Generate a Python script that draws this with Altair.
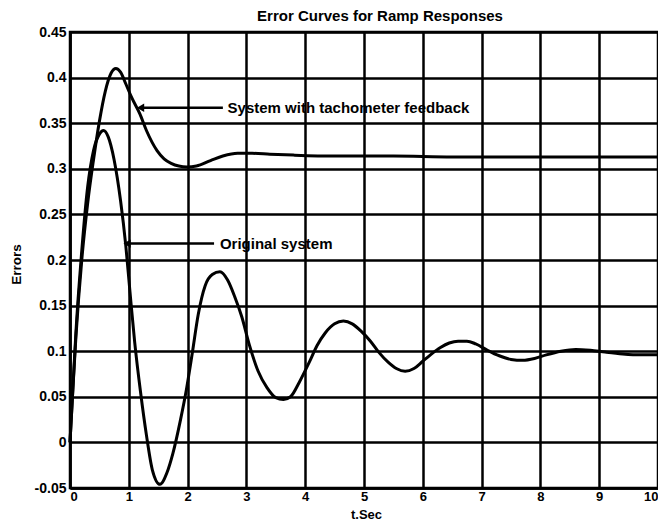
import altair as alt
import pandas as pd

# ---- data ----
t_orig = [0.0, 0.05, 0.1, 0.2, 0.3, 0.4, 0.5, 0.57, 0.65, 0.75, 0.86, 0.95, 1.02, 1.1, 1.2,
          1.3, 1.4, 1.53, 1.65, 1.75, 1.88, 1.98, 2.08, 2.18, 2.3, 2.42, 2.55, 2.68, 2.8,
          2.92, 3.05, 3.2, 3.35, 3.5, 3.63, 3.75, 3.9, 4.07, 4.2, 4.34, 4.5, 4.65, 4.8,
          4.95, 5.11, 5.25, 5.41, 5.55, 5.7, 5.85, 6.0, 6.13, 6.3, 6.45, 6.6, 6.75, 6.9,
          7.1, 7.3, 7.5, 7.7, 7.9, 8.1, 8.35, 8.6, 8.85, 9.1, 9.4, 9.7, 10.0]
e_orig = [0.0, 0.06, 0.12, 0.21, 0.28, 0.32, 0.338, 0.342, 0.335, 0.31, 0.265, 0.215, 0.165,
          0.11, 0.055, 0.008, -0.03, -0.046, -0.033, -0.012, 0.025, 0.058, 0.098, 0.14,
          0.172, 0.184, 0.187, 0.178, 0.16, 0.138, 0.107, 0.078, 0.06, 0.049, 0.047, 0.05,
          0.066, 0.088, 0.106, 0.12, 0.13, 0.133, 0.13, 0.122, 0.111, 0.099, 0.088, 0.081,
          0.078, 0.081, 0.089, 0.096, 0.104, 0.109, 0.111, 0.111, 0.108, 0.101, 0.095,
          0.091, 0.09, 0.092, 0.096, 0.1, 0.102, 0.101, 0.099, 0.097, 0.096, 0.096]

t_tach = [0.0, 0.05, 0.1, 0.2, 0.3, 0.4, 0.5, 0.6, 0.7, 0.78, 0.86, 0.95, 1.05, 1.19, 1.3,
          1.48, 1.6, 1.72, 1.85, 1.99, 2.15, 2.39, 2.6, 2.85, 3.1, 3.4, 3.8, 4.5, 5.5, 6.5,
          8.0, 10.0]
e_tach = [0.0, 0.06, 0.115, 0.2, 0.262, 0.31, 0.352, 0.385, 0.405, 0.41, 0.406, 0.393,
          0.378, 0.36, 0.342, 0.32, 0.311, 0.306, 0.303, 0.302, 0.303, 0.309, 0.314, 0.317,
          0.317, 0.316, 0.315, 0.314, 0.314, 0.313, 0.313, 0.313]

x_ticks = [0, 1, 2, 3, 4, 5, 6, 7, 8, 9, 10]
y_ticks = [-0.05, 0.0, 0.05, 0.1, 0.15, 0.2, 0.25, 0.3, 0.35, 0.4, 0.45]

chart_title = "Error Curves for Ramp Responses"
x_title = "t.Sec"
y_title = "Errors"

ann_text = ["System with tachometer feedback", "Original system"]
ann_tip_t = [1.2, 0.97]
ann_e = [0.367, 0.218]
ann_end_t = [2.6, 2.45]
ann_text_t = [2.68, 2.55]

FONT = "Liberation Sans"

df = pd.concat([
    pd.DataFrame({"t": t_orig, "e": e_orig, "series": "Original system"}),
    pd.DataFrame({"t": t_tach, "e": e_tach, "series": "System with tachometer feedback"}),
])
ann = pd.DataFrame({"text": ann_text, "tip": ann_tip_t, "e": ann_e,
                    "end": ann_end_t, "tx": ann_text_t})

xs = alt.Scale(domain=[0, 10], nice=False)
ys = alt.Scale(domain=[-0.05, 0.45], nice=False, zero=False)

lines = alt.Chart(df).mark_line(color="black", strokeWidth=3, interpolate="monotone").encode(
    x=alt.X("t:Q", scale=xs, axis=alt.Axis(
        values=x_ticks, title=x_title, format="d", labelFontSize=13, labelPadding=2,
        titleX=296, titleY=26, titleBaseline="middle", titleAlign="center",
        titleFontSize=13)),
    y=alt.Y("e:Q", scale=ys, axis=alt.Axis(
        values=y_ticks, title=y_title, labelFontSize=14, labelPadding=4,
        labelExpr="replace(format(datum.value, '.2~f'), '\u2212', '-')",
        titleX=-54, titleY=232, titleAngle=-90, titleAlign="center", titleBaseline="middle",
        titleFontSize=13.5)),
    detail="series:N",
)

rules = alt.Chart(ann).mark_rule(color="black", strokeWidth=2.5).encode(
    x="tip:Q", x2="end:Q", y="e:Q")
heads = alt.Chart(ann).mark_point(shape="triangle-left", filled=True, color="black",
                                  size=70, opacity=1).encode(x="tip:Q", y="e:Q")
texts = alt.Chart(ann).mark_text(align="left", baseline="middle", font=FONT,
                                 fontWeight="bold", fontSize=15, color="black").encode(
    x="tx:Q", y="e:Q", text="text:N")

chart = alt.layer(lines, rules, heads, texts).properties(
    width=588, height=456,
    title=alt.TitleParams(chart_title, font=FONT, fontSize=15, fontWeight="bold",
                          color="black", anchor="middle", offset=1, dx=16),
    autosize=alt.AutoSizeParams(type="none"),
    padding={"left": 62, "top": 24, "right": 0, "bottom": 33},
).configure_axis(
    grid=True, gridColor="black", gridWidth=2.5, gridOpacity=1,
    domainColor="black", domainWidth=2.5, tickSize=0,
    labelFont=FONT, labelFontWeight="bold", labelColor="black",
    titleFont=FONT, titleFontWeight="bold", titleColor="black",
).configure_view(stroke="black", strokeWidth=2.5)

chart.save("out.html", embed_options={"renderer": "svg", "actions": False})
